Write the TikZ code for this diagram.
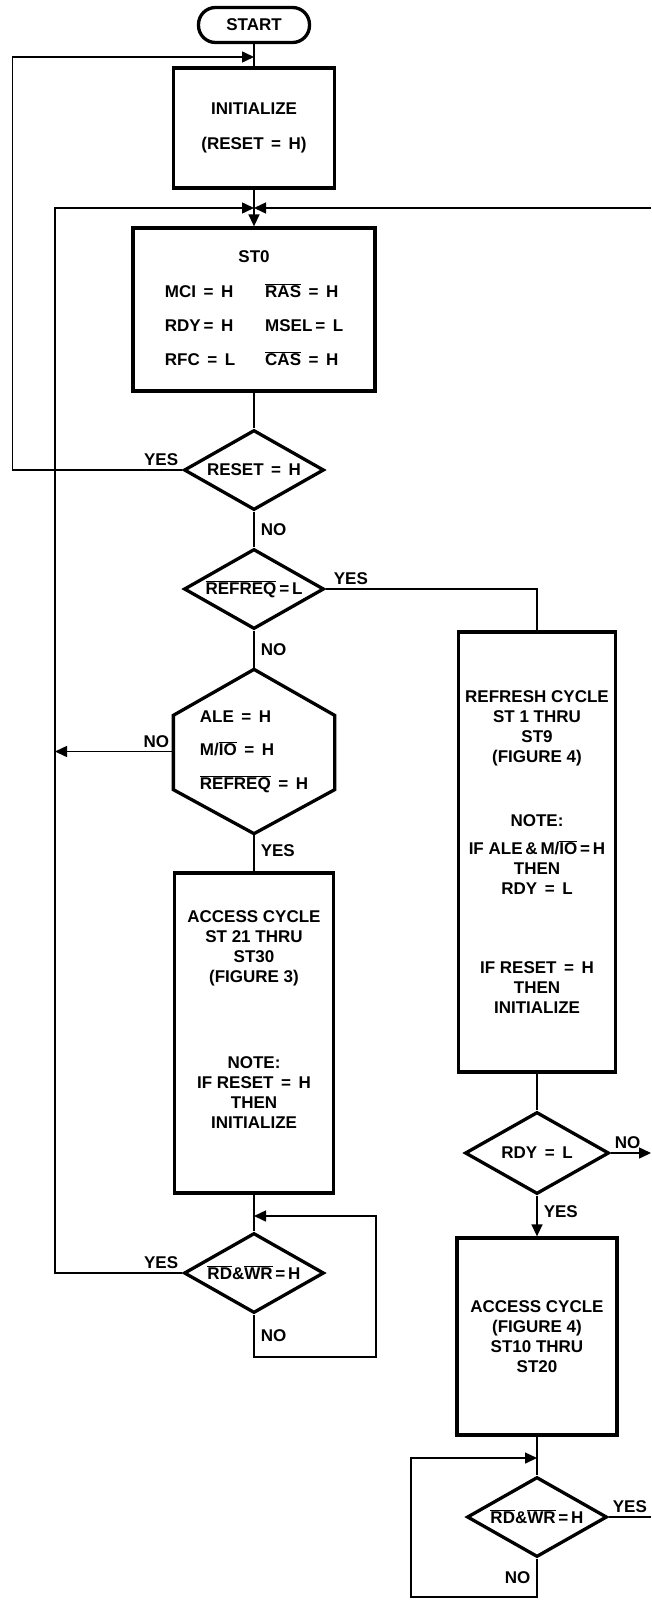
\documentclass[tikz,border=0pt]{standalone}
\usepackage{fontspec}
\setmainfont{Liberation Sans}
\usetikzlibrary{arrows.meta, positioning, calc, shapes.geometric}
\newcommand{\ovl}[1]{$\overline{\mbox{#1}}$}

\begin{document}
\begin{tikzpicture}[
    x=1pt, y=-1pt,
    >={Triangle[length=12pt, width=11pt]},
    every node/.style={font=\fontsize{17}{20}\selectfont\bfseries},
    line/.style={line width=1.5pt},
    arr/.style={line, ->},
    box/.style={draw, line width=3.3pt, align=center, inner sep=0pt},
    dec/.style={draw, diamond, aspect=1.75, line width=3.3pt, inner sep=0pt, minimum width=140pt, minimum height=80pt},
    lbl/.style={inner sep=4pt},
]
\useasboundingbox (0,0) rectangle (651,1600);
% === Start and initialize ===
\node[box, rounded corners=17pt, minimum width=111pt, minimum height=35pt] (start) at (254,25) {START};
\node[box, minimum width=161pt, minimum height=120pt] (init) at (254,128) {INITIALIZE\\[15pt](RESET\, =\, H)};
\coordinate (jtop) at (254,57);
\coordinate (jmid) at (254,208);
\draw[line] (start) -- (init);
\draw[line] (init) -- (jmid);
% === Idle state ===
\node[box, minimum width=242pt, minimum height=163pt] (st0) at (254,309.5) {%
  \begin{tabular}{@{}l@{\hspace{30pt}}l@{}}
  \multicolumn{2}{c}{ST0}\\[15pt]
  MCI\, =\, H & \ovl{RAS}\, =\, H\\[14pt]
  RDY\,=\, H & MSEL\,=\, L\\[14pt]
  RFC\, =\, L & \ovl{CAS}\, =\, H
  \end{tabular}};
\draw[arr] (jmid) -- (st0);
% === Decisions, left column ===
\node[dec] (reset) at (254,470) {RESET\, =\, H};
\node[dec] (refreq) at (254,589) {\ovl{REFREQ}\,=\,L};
\node[box, draw=none, align=left, minimum width=158pt, minimum height=161pt] (hex) at (254,751.5) {%
  ALE\, =\, H\\[13.5pt]M/\ovl{IO}\, =\, H\\[13.5pt]\ovl{REFREQ}\, =\, H};
\draw[line width=3.3pt] (hex.north) -- ([yshift=-46pt]hex.north west) -- ([yshift=44pt]hex.south west)
  -- (hex.south) -- ([yshift=44pt]hex.south east) -- ([yshift=-46pt]hex.north east) -- cycle;
\draw[line] (st0) -- (reset);
\draw[line] (reset) -- node[lbl, right=2pt] {NO} (refreq);
\draw[line] (refreq) -- node[lbl, right=2pt] {NO} (hex);
% === Access cycle (figure 3) ===
\node[box, minimum width=159pt, minimum height=320pt] (acc1) at (254,1033) {%
  ACCESS CYCLE\\ST 21 THRU\\ST30\\(FIGURE 3)\\[66pt]NOTE:\\IF RESET\, =\, H\\THEN\\INITIALIZE\\[6pt]\mbox{}};
\node[dec] (rdw1) at (254,1273) {\ovl{RD}\&\ovl{WR}\,=\,H};
\draw[line] (hex) -- node[lbl, right=2pt, pos=0.45] {YES} (acc1);
\draw[line] (acc1) -- (rdw1);
% === Refresh cycle, right column ===
\node[box, minimum width=157pt, minimum height=440pt] (refresh) at (537,852) {%
  REFRESH CYCLE\\ST 1 THRU\\ST9\\(FIGURE 4)\\[44pt]NOTE:\\[8pt]IF ALE\,\&\,M/\ovl{IO}\,=\,H\\THEN\\RDY\, =\, L\\[59pt]IF RESET\, =\, H\\THEN\\INITIALIZE};
\node[dec, minimum width=144pt, minimum height=82pt] (rdy) at (537,1153) {RDY\, =\, L};
\node[box, minimum width=160pt, minimum height=197pt] (acc2) at (537,1336.5) {%
  ACCESS CYCLE\\(FIGURE 4)\\ST10 THRU\\ST20};
\node[dec] (rdw2) at (537,1517) {\ovl{RD}\&\ovl{WR}\,=\,H};
\draw[line] (refreq.east) -| (refresh.north);
\draw[line] (refresh) -- (rdy);
\draw[arr] (rdy) -- node[lbl, right=2pt, pos=0.4] {YES} (acc2);
\draw[line] (acc2) -- (rdw2);
% === Loop-back wires ===
\coordinate (jl) at (12.5,57);
\coordinate (il) at (55,208);
\coordinate (ir) at (651,208);
\coordinate (lp1) at (376,1357);
\coordinate (j3) at (254,1216);
\coordinate (lp2) at (411,1597);
\coordinate (j4) at (537,1458);
\coordinate (rdyout) at (651,1153);
\coordinate (rdwout) at (651,1517);
\draw[arr] (reset.west) -| (jl) -- (jtop);
\draw[arr] (rdw1.west) -| (il) -- (jmid);
\draw[arr] (ir) -- (jmid);
\draw[arr] (hex.west) -- (hex.west -| il);
\draw[arr] (rdw1.south) -- node[lbl, right=2pt] {NO} (rdw1.south |- lp1) -- (lp1) |- (j3);
\draw[arr] (rdy.east) -- (rdyout);
\draw[arr] (rdw2.south) -- node[lbl, left=2pt] {NO} (rdw2.south |- lp2) -- (lp2) |- (j4);
\draw[line] (rdw2.east) -- (rdwout);
% === Branch labels ===
\node[lbl, anchor=south east] (yesreset) at (reset.west) {YES};
\node[lbl, anchor=south west] (yesrefreq) at ([xshift=4pt]refreq.east) {YES};
\node[lbl, anchor=south east] (nohex) at (hex.west) {NO};
\node[lbl, anchor=south west] (nordy) at (rdy.east) {NO};
\node[lbl, anchor=south east] (yesrdw1) at (rdw1.west) {YES};
\node[lbl, anchor=south west] (yesrdw2) at (rdw2.east) {YES};
\end{tikzpicture}
\end{document}
